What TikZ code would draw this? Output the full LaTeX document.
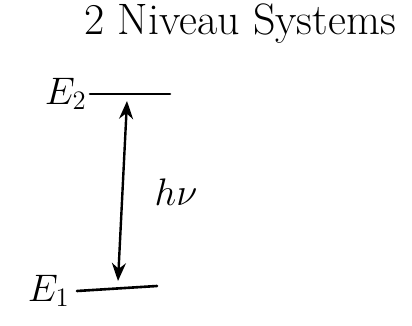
\documentclass[tikz,border=0pt]{standalone}
\usetikzlibrary{positioning,arrows.meta}
\begin{document}
\begin{tikzpicture}[x=1pt,y=-1pt,
    level/.style={line width=2.6pt, line cap=round},
    label/.style={font=\fontsize{44}{50}\selectfont, inner sep=1pt},
    symbol/.style={font=\huge, scale=1.85, inner sep=0.5pt},
    transition/.style={{Stealth[length=18pt,width=14pt]}-{Stealth[length=18pt,width=14pt]}, line width=2.4pt}]
  \useasboundingbox (0,0) rectangle (412,326);
  \node[label] (title) at (240,24) {2 Niveau Systems};
  % levels
  \coordinate (top left) at (90,94);
  \coordinate (top right) at (170,94);
  \coordinate (bot left) at (77,291);
  \coordinate (bot right) at (157,286);
  \draw[level] (top left) -- (top right);
  \draw[level] (bot left) -- (bot right);
  \node[symbol, left=2pt of top left] (E2) {$E_2$};
  \node[symbol, left=6pt of bot left] (E1) {$E_1$};
  % transition
  \coordinate (up) at (127,101);
  \coordinate (down) at (118,281);
  \draw[transition] (down) -- (up);
  \node[symbol] (hnu) at (176,192) {$h\nu$};
\end{tikzpicture}
\end{document}
